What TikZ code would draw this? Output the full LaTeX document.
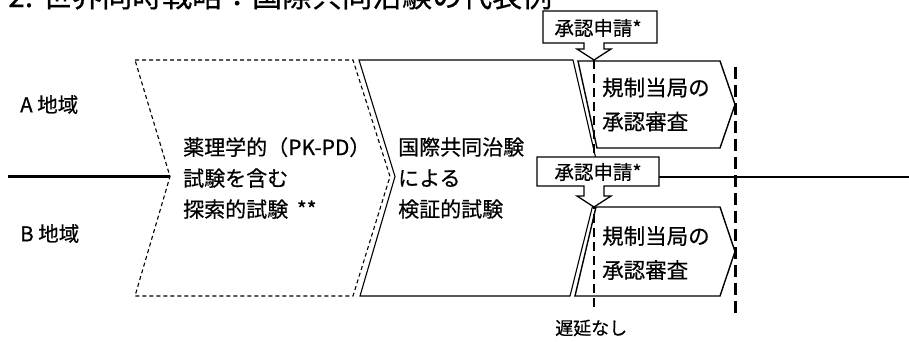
\documentclass[tikz,border=0pt]{standalone}
\usepackage{fontspec}
\setmainfont{Noto Sans CJK JP}[FakeBold=0.5]
\begin{document}
\begin{tikzpicture}[x=1pt,y=-1pt,
  chevdash/.style={draw, line width=1.1pt, dash pattern=on 4pt off 3pt, line join=miter},
  chevsolid/.style={draw, line width=1.1pt, line join=miter},
  regbox/.style={draw, fill=white, line width=1.4pt, line join=miter},
  vdasha/.style={draw, line width=2.6pt, dash pattern=on 9pt off 5pt},
  vdashb/.style={draw, line width=3pt, dash pattern=on 12pt off 6pt},
  axisline/.style={draw, line width=2.6pt},
  callout/.style={draw, fill=white, line width=1.3pt, line join=miter},
  txt/.style={inner sep=0pt, anchor=west, align=left},
  titlefont/.style={font=\fontsize{30}{30}\selectfont},
  bigfont/.style={font=\fontsize{21}{31}\selectfont},
  regfont/.style={font=\fontsize{21.5}{34}\selectfont},
  lblfont/.style={font=\fontsize{20.5}{20.5}\selectfont},
  callfont/.style={font=\fontsize{19.5}{19.5}\selectfont}
]
\useasboundingbox (0,0) rectangle (909,341);
\fill[white] (0,0) rectangle (909,341);

% key coordinates
\coordinate (Lstart) at (8,176.5);
\coordinate (c1notch) at (170,176.5);
\coordinate (b2right) at (659,177);
\coordinate (Rend) at (909,177);
\coordinate (tipA) at (594,60);
\coordinate (tipB) at (594,207);
\coordinate (dashAend) at (594,307);
\coordinate (dashBtop) at (735,67);
\coordinate (dashBend) at (735,313);

% chevrons
\path[chevdash] (135,60) -- (353,60) -- (390,176.5) -- (353,296) -- (135,296) -- (c1notch) -- cycle;
\path[chevsolid] (359,60) -- (573,60) -- (600,176.5) -- (570,296) -- (360,296) -- (395,176.5) -- cycle;

% regulatory review boxes
\path[regbox] (578,61) -- (720,61) -- (735,104.5) -- (720,148) -- (597,148) -- cycle;
\path[regbox] (596,207) -- (720,207) -- (735,251.5) -- (720,296) -- (575,296) -- cycle;

% vertical dashed lines
\path[vdasha] (tipA) -- (dashAend);
\path[vdashb] (dashBtop) -- (dashBend);

% axis lines
\path[axisline] (Lstart) -- (c1notch);
\path[axisline] (b2right) -- (Rend);

% callouts
\path[callout] (543,11) -- (657,11) -- (657,43) -- (604,43) -- (604,49) -- (611,49) -- (tipA) -- (577,49) -- (584,49) -- (584,43) -- (543,43) -- cycle;
\path[callout] (537,157) -- (659,157) -- (659,186) -- (604,186) -- (604,196) -- (611,196) -- (tipB) -- (577,196) -- (584,196) -- (584,186) -- (537,186) -- cycle;

% texts
\node[anchor=base west, inner sep=0pt, titlefont] (title) at (8,7) {2. 世界同時戦略：国際共同治験の代表例};
\node[txt, lblfont] (labA) at (20,104.5) {A 地域};
\node[txt, lblfont] (labB) at (20,233.5) {B 地域};
\node[txt, bigfont] (c1text) at (183,178) {薬理学的（PK-PD）\\試験を含む\\探索的試験\hspace{4pt} **};
\node[txt, bigfont] (c2text) at (398,178) {国際共同治験\\による\\検証的試験};
\node[txt, regfont] (rAtext) at (602,104.5) {規制当局の\\承認審査};
\node[txt, regfont] (rBtext) at (602,253) {規制当局の\\承認審査};
\node[inner sep=0pt, callfont] (callA) at (598,28) {承認申請*};
\node[inner sep=0pt, callfont] (callB) at (598,172) {承認申請*};
\node[txt, font=\fontsize{18}{18}\selectfont] (nodelay) at (555,328) {遅延なし};
\end{tikzpicture}
\end{document}
